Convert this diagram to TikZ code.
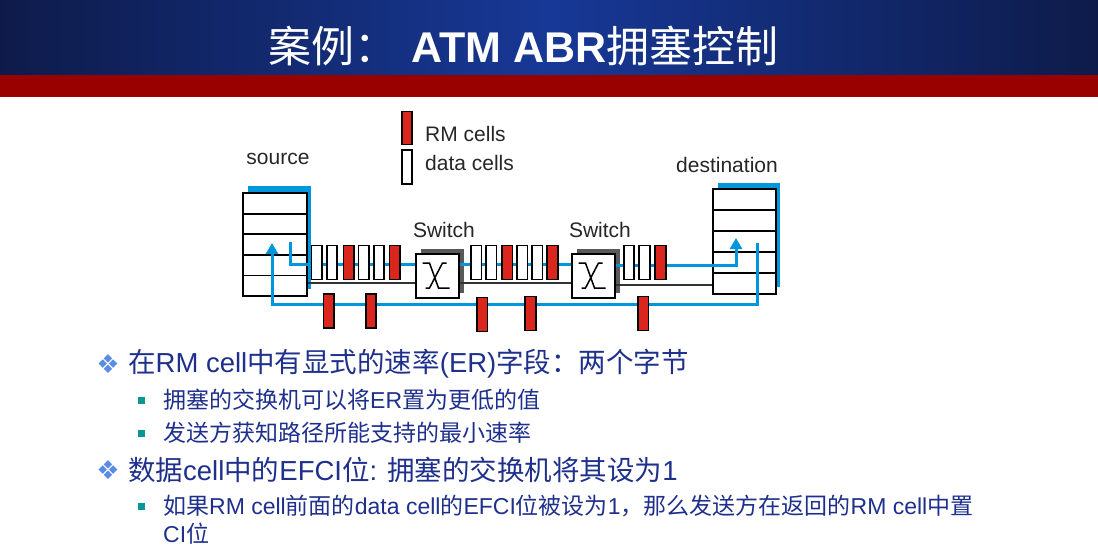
\documentclass[tikz,border=0pt]{standalone}
\usepackage{fontspec}
\setmainfont{Liberation Sans}
\newfontfamily\cjk{Noto Sans CJK SC}
\newfontfamily\symfont{DejaVu Sans}
\usetikzlibrary{arrows.meta,shadows}

\definecolor{bandedge}{RGB}{14,27,74}
\definecolor{bandmid}{RGB}{23,56,150}
\definecolor{bandred}{RGB}{153,0,0}
\definecolor{linkblue}{RGB}{0,150,220}
\definecolor{cellred}{RGB}{218,38,28}
\definecolor{textblue}{RGB}{30,48,140}
\definecolor{bulletblue}{RGB}{90,140,230}
\definecolor{bulletteal}{RGB}{10,150,150}
\newcommand{\zh}[1]{{\cjk #1}}

\tikzset{
  cell/.style={draw=black, line width=1.6pt, fill=white, minimum width=10.5pt, minimum height=34pt, inner sep=0pt},
  rmcell/.style={cell, fill=cellred},
  hostbox/.style={draw=black, line width=1.8pt, fill=white, inner sep=0pt},
  switchbox/.style={draw=black, line width=1.8pt, fill=white, minimum width=43pt, minimum height=44pt, inner sep=0pt,
    drop shadow={shadow xshift=5pt, shadow yshift=5pt, fill=black!65, opacity=1}},
  hostlabel/.style={font=\fontsize{21}{24}\selectfont, text=black!85, inner sep=0pt},
  blueline/.style={draw=linkblue, line width=3pt},
  wire/.style={draw=black!80, line width=1.6pt},
  mainitem/.style={anchor=west, text=textblue, inner sep=0pt, font=\fontsize{27.5}{30}\selectfont},
  subitem/.style={anchor=west, text=textblue, inner sep=0pt, font=\fontsize{23}{26}\selectfont},
}

\begin{document}
\begin{tikzpicture}[x=1pt, y=-1pt]
  \useasboundingbox (0,0) rectangle (1098,552);

  % Title band
  \shade[left color=bandedge, right color=bandedge, middle color=bandmid] (0,0) rectangle (1098,75);
  \fill[bandred] (0,75) rectangle (1098,97);
  \node[anchor=west, text=white, inner sep=0pt, font=\fontsize{43}{48}\selectfont] (title) at (268,46)
    {\zh{案例：}\hspace{14pt}\textbf{ATM ABR}\zh{拥塞控制}};

  % Legend
  \node[rmcell, minimum height=33pt] (rmkey) at (407,128) {};
  \node[cell] (datakey) at (407,167) {};
  \node[hostlabel, anchor=west] (rmtext) at (425,134) {RM cells};
  \node[hostlabel, anchor=west] (datatext) at (425,163) {data cells};

  % Source and destination hosts
  \fill[linkblue] (248,186) rectangle (311,289);
  \node[hostbox, minimum width=64pt, minimum height=103pt] (src) at (275,244.5) {};
  \foreach \r in {1,...,4}
    \draw[line width=1.8pt] (243,193+\r*20.6) -- (307,193+\r*20.6);
  \node[hostlabel] (srclabel) at (278,159) {source};

  \fill[linkblue] (718,183) rectangle (780,287);
  \node[hostbox, minimum width=63pt, minimum height=105pt] (dst) at (744.5,241.5) {};
  \foreach \r in {1,...,4}
    \draw[line width=1.8pt] (713,189+\r*21) -- (776,189+\r*21);
  \node[hostlabel] (dstlabel) at (727,165) {destination};

  % Switches
  \node[switchbox] (sw1) at (437.5,276) {};
  \node[switchbox] (sw2) at (593.5,276) {};
  \node[hostlabel] (sw1label) at (444,230) {Switch};
  \node[hostlabel] (sw2label) at (600,230) {Switch};
  \foreach \s in {sw1,sw2}
    \draw[line width=1.5pt, shift={(\s.center)}]
      (-15,-13) -- (-8,-13) -- (1,12) -- (12,12)
      (9,-13) -- (5,-13) -- (-8,12) -- (-12,12);

  % Forward path
  \coordinate (srcout) at (290,242);
  \coordinate (dstin) at (736,238);
  \draw[blueline] (srcout) |- ([yshift=12pt]sw1.west);
  \draw[blueline] ([yshift=12pt]sw1.east) -- ([yshift=12pt]sw2.west);
  \draw[blueline, -{Triangle[width=12pt, length=11pt]}] ([yshift=11pt]sw2.east) -| (dstin);
  \draw[wire] ([yshift=-38.5pt]src.east) coordinate (w1) -- (w1 -| sw1.west);
  \draw[wire] ([yshift=-7pt]sw1.east) coordinate (w2) -- (w2 -| sw2.west);
  \draw[wire] ([yshift=-9pt]sw2.east) coordinate (w3) -- (w3 -| dst.west);

  % Return path
  \coordinate (dstret) at (757,243);
  \coordinate (srcin) at (272,243);
  \draw[blueline, -{Triangle[width=12pt, length=11pt]}] (dstret) -- ++(0,61) -| (srcin);

  % Cells on the forward path
  \foreach \x/\k [count=\i] in {316.7/cell, 332/cell, 348.7/rmcell, 363.8/cell, 379/cell, 394.7/rmcell}
    \node[\k] (a\i) at (\x,262.5) {};
  \foreach \x/\k [count=\i] in {476.2/cell, 491.3/cell, 507.2/rmcell, 522.2/cell, 537.2/cell, 552.5/rmcell}
    \node[\k] (b\i) at (\x,262.5) {};
  \foreach \x/\k [count=\i] in {629/cell, 644.5/cell, 660.5/rmcell}
    \node[\k] (c\i) at (\x,262.5) {};

  % RM cells on the return path
  \foreach \x/\y [count=\i] in {328.8/311, 371/311, 482.3/314.5, 530.5/313.5, 643.3/313.5}
    \node[rmcell] (r\i) at (\x,\y) {};

  % Bullet text
  \node[text=bulletblue, inner sep=0pt, font=\symfont\fontsize{26}{26}\selectfont] (b1) at (108,364) {❖};
  \node[text=bulletblue, inner sep=0pt, font=\symfont\fontsize{26}{26}\selectfont] (b2) at (108,470) {❖};
  \foreach \y [count=\i] in {400,433,506}
    \node[fill=bulletteal, minimum size=7pt, inner sep=0pt] (s\i) at (141,\y) {};

  \node[mainitem] (t1) at (128,364) {\zh{在}RM cell\zh{中有显式的速率}(ER)\zh{字段：两个字节}};
  \node[subitem] (t2) at (163,400) {\zh{拥塞的交换机可以将}ER\zh{置为更低的值}};
  \node[subitem] (t3) at (163,433) {\zh{发送方获知路径所能支持的最小速率}};
  \node[mainitem] (t4) at (128,470) {\zh{数据}cell\zh{中的}EFCI\zh{位}: \zh{拥塞的交换机将其设为}1};
  \node[subitem] (t5) at (163,506) {\zh{如果}RM cell\zh{前面的}data cell\zh{的}EFCI\zh{位被设为}1\zh{，那么发送方在返回的}RM cell\zh{中置}};
  \node[subitem] (t6) at (163,534) {CI\zh{位}};
\end{tikzpicture}
\end{document}
